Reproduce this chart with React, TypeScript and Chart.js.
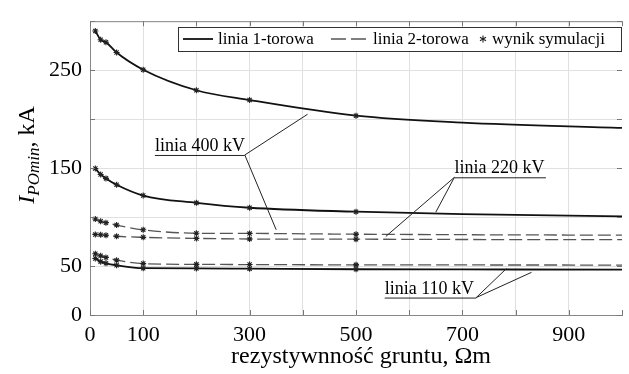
import React, { useEffect, useRef } from "react";
import { Chart, registerables } from "chart.js";

Chart.register(...registerables);

// Ground resistivity (Ωm) at which the curves are given
const rhoX = [10, 20, 30, 50, 100, 200, 300, 500, 700, 1000];
// The first simCount points are simulation results (marked with stars)
const simCount = 8;

// I_POmin, kA
const line400kV1 = [290, 281, 278.5, 268, 250.5, 229.5, 219.5, 203.5, 196.5, 191];
const line400kV2 = [98, 95.7, 94.3, 91.8, 87, 83.5, 83.3, 82.5, 82, 81.5];
const line220kV1 = [149.5, 143.5, 139.5, 133, 122, 114.5, 109.5, 105.5, 103, 100.8];
const line220kV2 = [82.3, 81.9, 81.4, 80.4, 79.3, 78.2, 77.6, 77.4, 77.1, 76.9];
const line110kV2 = [62.5, 60.4, 58.8, 56, 52.5, 51.7, 51.5, 51.2, 51.1, 51];
const line110kV1 = [57.7, 54.5, 52.8, 50.8, 47.8, 47.6, 47.3, 46.7, 46.5, 46.4];

const xTickLabels = [0, 100, 300, 500, 700, 900];
const yTickLabels = [0, 50, 150, 250];

const legendLabels = ["linia 1-torowa", "linia 2-torowa", "wynik symulacji"];
const xTitle = "rezystywnność gruntu, Ωm";
const yTitleMain = "I";
const yTitleSub = "POmin";
const yTitleRest = ", kA";

// callout labels, in data units: text from x0..x1 sitting on an underline at y,
// leader lines from the anchor end to the targets
const callouts = [
  { text: "linia 400 kV", x0: 122, x1: 291, y: 163.4, anchor: "right", targets: [[409, 205], [350, 87]] },
  { text: "linia 220 kV", x0: 685, x1: 857, y: 140.6, anchor: "left", targets: [[650, 105], [556, 80.2]] },
  { text: "linia 110 kV", x0: 554, x1: 726, y: 17.8, anchor: "right", targets: [[783, 47.5], [830, 43.6]] },
];

const SERIF = '"Liberation Serif", "Times New Roman", serif';

const solidColor = "#111111";
const dashColor = "#555555";
const dashPattern = [13, 5];

function series(label: string, ys: number[], dashed: boolean) {
  return {
    label,
    data: rhoX.map((x, i) => ({ x, y: ys[i] })),
    borderColor: dashed ? dashColor : solidColor,
    borderWidth: dashed ? 1.3 : 1.8,
    borderDash: dashed ? dashPattern : [],
    cubicInterpolationMode: "monotone" as const,
    pointStyle: "star" as const,
    pointRadius: (ctx: any) => (ctx.dataIndex < simCount ? 3 : 0),
    pointBorderColor: "#222222",
    pointBackgroundColor: "#222222",
    pointBorderWidth: 1.1,
    fill: false,
  };
}

function drawAsterisk(ctx: CanvasRenderingContext2D, x: number, y: number, r: number) {
  ctx.beginPath();
  for (let k = 0; k < 3; k++) {
    const a = Math.PI / 2 + (k * Math.PI) / 3;
    ctx.moveTo(x + r * Math.cos(a), y + r * Math.sin(a));
    ctx.lineTo(x - r * Math.cos(a), y - r * Math.sin(a));
  }
  ctx.stroke();
}

const decorPlugin = {
  id: "decor",
  afterDatasetsDraw(chart: any) {
    const { ctx, chartArea, scales } = chart;
    const xs = scales.x;
    const ys = scales.y;
    const { left, right, top, bottom } = chartArea;
    ctx.save();

    // frame: top border and inside ticks
    ctx.strokeStyle = "#888888";
    ctx.lineWidth = 1;
    ctx.beginPath();
    ctx.moveTo(left, top + 0.5);
    ctx.lineTo(right, top + 0.5);
    ctx.stroke();
    ctx.strokeStyle = "#777777";
    ctx.beginPath();
    for (let v = 0; v <= 1000; v += 100) {
      const px = Math.round(xs.getPixelForValue(v)) + 0.5;
      ctx.moveTo(px, bottom);
      ctx.lineTo(px, bottom - 5);
      ctx.moveTo(px, top);
      ctx.lineTo(px, top + 5);
    }
    for (let v = 0; v <= 300; v += 50) {
      const py = Math.round(ys.getPixelForValue(v)) + 0.5;
      ctx.moveTo(left, py);
      ctx.lineTo(left + 5, py);
      ctx.moveTo(right, py);
      ctx.lineTo(right - 5, py);
    }
    ctx.stroke();

    // callouts
    ctx.font = `18px ${SERIF}`;
    ctx.fillStyle = "#000";
    ctx.strokeStyle = "#222";
    ctx.lineWidth = 1;
    ctx.textBaseline = "alphabetic";
    ctx.textAlign = "left";
    for (const c of callouts) {
      const x0 = xs.getPixelForValue(c.x0);
      const x1 = xs.getPixelForValue(c.x1);
      const y = ys.getPixelForValue(c.y);
      ctx.fillText(c.text, x0, y - 4);
      ctx.beginPath();
      ctx.moveTo(x0, y + 0.5);
      ctx.lineTo(x1, y + 0.5);
      const ax = c.anchor === "left" ? x0 : x1;
      for (const t of c.targets) {
        ctx.moveTo(ax, y);
        ctx.lineTo(xs.getPixelForValue(t[0]), ys.getPixelForValue(t[1]));
      }
      ctx.stroke();
    }

    // legend box
    const lx0 = 178, lx1 = 621, ly0 = 27, ly1 = 51;
    const my = (ly0 + ly1) / 2;
    ctx.fillStyle = "#ffffff";
    ctx.fillRect(lx0, ly0, lx1 - lx0, ly1 - ly0);
    ctx.strokeStyle = "#333";
    ctx.lineWidth = 1;
    ctx.strokeRect(lx0 + 0.5, ly0 + 0.5, lx1 - lx0, ly1 - ly0);
    ctx.font = `17px ${SERIF}`;
    ctx.fillStyle = "#000";
    ctx.textBaseline = "middle";
    // solid sample
    ctx.strokeStyle = solidColor;
    ctx.lineWidth = 1.8;
    ctx.beginPath();
    ctx.moveTo(183, my);
    ctx.lineTo(213, my);
    ctx.stroke();
    ctx.fillText(legendLabels[0], 218, my + 1);
    // dashed sample
    ctx.strokeStyle = dashColor;
    ctx.lineWidth = 1.3;
    ctx.setLineDash([15, 5]);
    ctx.beginPath();
    ctx.moveTo(331, my);
    ctx.lineTo(366, my);
    ctx.stroke();
    ctx.setLineDash([]);
    ctx.fillText(legendLabels[1], 373, my + 1);
    // star sample
    ctx.strokeStyle = "#222";
    ctx.lineWidth = 1.1;
    drawAsterisk(ctx, 483, my, 3.5);
    ctx.fillText(legendLabels[2], 492, my + 1);

    ctx.restore();
  },
  afterDraw(chart: any) {
    const { ctx, chartArea } = chart;
    ctx.save();
    ctx.fillStyle = "#000";
    // x title
    ctx.font = `24px ${SERIF}`;
    ctx.textAlign = "center";
    ctx.textBaseline = "alphabetic";
    ctx.fillText(xTitle, (chartArea.left + chartArea.right) / 2 + 5, 363);

    // y title, rotated, with subscript
    const mainFont = `italic 24px ${SERIF}`;
    const subFont = `italic 17px ${SERIF}`;
    const restFont = `24px ${SERIF}`;
    ctx.font = mainFont;
    const w1 = ctx.measureText(yTitleMain).width;
    ctx.font = subFont;
    const w2 = ctx.measureText(yTitleSub).width;
    ctx.font = restFont;
    const w3 = ctx.measureText(yTitleRest).width;
    const total = w1 + w2 + w3;
    const cy = 155;
    const bx = 34;
    ctx.translate(bx, cy);
    ctx.rotate(-Math.PI / 2);
    ctx.textAlign = "left";
    let cx = -total / 2;
    ctx.font = mainFont;
    ctx.fillText(yTitleMain, cx, 0);
    cx += w1;
    ctx.font = subFont;
    ctx.fillText(yTitleSub, cx, 5);
    cx += w2;
    ctx.font = restFont;
    ctx.fillText(yTitleRest, cx, 0);
    ctx.restore();
  },
};

export default function App() {
  const canvasRef = useRef<HTMLCanvasElement | null>(null);

  useEffect(() => {
    document.body.style.margin = "0";
    const canvas = canvasRef.current;
    if (!canvas) return;
    const tickFont = { family: SERIF, size: 22 };
    const chart = new Chart(canvas, {
      type: "line",
      data: {
        datasets: [
          series("400 kV 1-torowa", line400kV1, false),
          series("400 kV 2-torowa", line400kV2, true),
          series("220 kV 1-torowa", line220kV1, false),
          series("220 kV 2-torowa", line220kV2, true),
          series("110 kV 2-torowa", line110kV2, true),
          series("110 kV 1-torowa", line110kV1, false),
        ],
      },
      options: {
        animation: false,
        responsive: true,
        maintainAspectRatio: false,
        devicePixelRatio: 1,
        layout: { padding: { top: 12, right: 1, left: 0, bottom: 0 } },
        plugins: { legend: { display: false }, tooltip: { enabled: false } },
        scales: {
          x: {
            type: "linear",
            min: 0,
            max: 1000,
            ticks: {
              stepSize: 100,
              autoSkip: false,
              maxRotation: 0,
              padding: 7,
              color: "#000",
              font: tickFont,
              callback: (v: any) => (xTickLabels.includes(Number(v)) ? String(v) : ""),
            },
            grid: {
              drawTicks: false,
              color: (c: any) => (c.tick && c.tick.value === 1000 ? "rgba(0,0,0,0)" : "#e0e0e0"),
              lineWidth: 1,
            },
            border: { color: "#888888", width: 1 },
            afterFit: (s: any) => {
              s.height = 59;
            },
          },
          y: {
            type: "linear",
            min: 0,
            max: 300,
            ticks: {
              stepSize: 50,
              padding: 8,
              color: "#000",
              font: tickFont,
              callback: (v: any) => (yTickLabels.includes(Number(v)) ? String(v) : ""),
            },
            grid: { drawTicks: false, color: "#e0e0e0", lineWidth: 1 },
            border: { color: "#888888", width: 1 },
            afterFit: (s: any) => {
              s.width = 90;
            },
          },
        },
      },
      plugins: [decorPlugin],
    });
    return () => chart.destroy();
  }, []);

  return (
    <div style={{ position: "absolute", left: 0, top: 0, width: 629, height: 374, background: "#fff" }}>
      <canvas ref={canvasRef} />
    </div>
  );
}
